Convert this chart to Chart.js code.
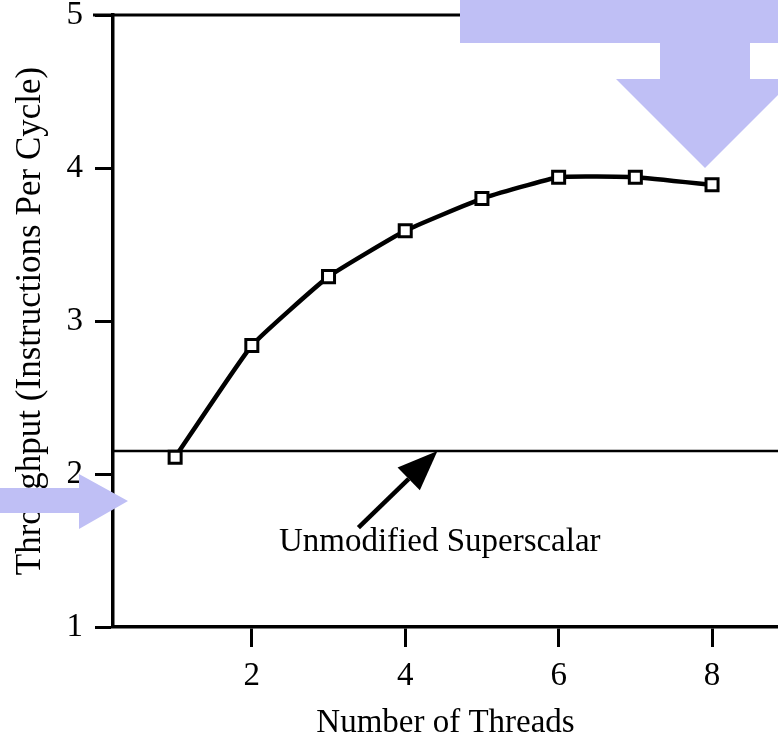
<!DOCTYPE html>
<html>
<head>
<meta charset="utf-8">
<script src="https://cdn.jsdelivr.net/npm/chart.js@4.4.1/dist/chart.umd.min.js"></script>
<style>
  html, body { margin: 0; padding: 0; background: #fff; }
  canvas { display: block; }
</style>
</head>
<body>
<canvas id="chart" width="778" height="743"></canvas>
<script>
// data
const threads = [1, 2, 3, 4, 5, 6, 7, 8];
const throughput = [2.11, 2.84, 3.29, 3.59, 3.80, 3.94, 3.94, 3.89];
const baseline = 2.15; // unmodified superscalar
const xTicks = [2, 4, 6, 8];
const yTicks = [1, 2, 3, 4, 5];
const xRange = [0.19, 8.86];
const yRange = [1, 5];

// annotation (in data units)
const noteText = "Unmodified Superscalar";
const notePos = { x: 4.45, y: 1.50 };
const arrowFrom = { x: 3.39, y: 1.65 };
const arrowTo = { x: 4.42, y: 2.15 };

const serif = '"Liberation Serif", "Times New Roman", serif';

const decorations = {
  id: "decorations",
  afterDatasetsDraw(chart) {
    const { ctx, chartArea, scales: { x, y } } = chart;
    ctx.save();
    // top frame line
    ctx.strokeStyle = "#000";
    ctx.lineWidth = 3;
    ctx.beginPath();
    ctx.moveTo(chartArea.left - 20, chartArea.top);
    ctx.lineTo(chartArea.right, chartArea.top);
    ctx.stroke();

    // arrow pointing at the baseline
    const x0 = x.getPixelForValue(arrowFrom.x), y0 = y.getPixelForValue(arrowFrom.y);
    const x1 = x.getPixelForValue(arrowTo.x), y1 = y.getPixelForValue(arrowTo.y);
    const ang = Math.atan2(y1 - y0, x1 - x0);
    const headLen = 40, headHalf = 16;
    const bx = x1 - headLen * Math.cos(ang), by = y1 - headLen * Math.sin(ang);
    ctx.lineWidth = 4.5;
    ctx.beginPath();
    ctx.moveTo(x0, y0);
    ctx.lineTo(bx, by);
    ctx.stroke();
    ctx.fillStyle = "#000";
    ctx.beginPath();
    ctx.moveTo(x1, y1);
    ctx.lineTo(bx + headHalf * Math.sin(ang), by - headHalf * Math.cos(ang));
    ctx.lineTo(bx - headHalf * Math.sin(ang), by + headHalf * Math.cos(ang));
    ctx.closePath();
    ctx.fill();

    ctx.font = "33px " + serif;
    ctx.textAlign = "center";
    ctx.textBaseline = "alphabetic";
    ctx.fillText(noteText, x.getPixelForValue(notePos.x), y.getPixelForValue(notePos.y));
    ctx.restore();
  },
  afterDraw(chart) {
    // lavender highlight arrows that sit on top of the scan
    const { ctx } = chart;
    ctx.save();
    ctx.fillStyle = "#bfbff5";
    ctx.beginPath();
    [[460, 0], [778, 0], [778, 43], [750, 43], [750, 79], [794, 79], [705, 168],
     [616, 79], [660, 79], [660, 43], [460, 43]].forEach(([px, py], i) => i ? ctx.lineTo(px, py) : ctx.moveTo(px, py));
    ctx.closePath();
    ctx.fill();
    ctx.beginPath();
    [[0, 488], [79, 488], [79, 474], [128, 501], [79, 529], [79, 513], [0, 513]]
      .forEach(([px, py], i) => i ? ctx.lineTo(px, py) : ctx.moveTo(px, py));
    ctx.closePath();
    ctx.fill();
    ctx.restore();
  }
};

new Chart(document.getElementById("chart"), {
  type: "line",
  data: {
    datasets: [
      {
        data: threads.map((t, i) => ({ x: t, y: throughput[i] })),
        borderColor: "#000",
        borderWidth: 4.5,
        tension: 0.12,
        pointStyle: "rect",
        pointRadius: 8.5,
        pointBorderWidth: 3,
        pointBackgroundColor: "#fff",
        pointBorderColor: "#000"
      },
      {
        data: xRange.map(v => ({ x: v, y: baseline })),
        borderColor: "#000",
        borderWidth: 2.5,
        pointRadius: 0
      }
    ]
  },
  options: {
    responsive: false,
    animation: false,
    layout: { autoPadding: false, padding: { top: 15, right: 0, bottom: 0, left: 0 } },
    plugins: { legend: { display: false }, tooltip: { enabled: false } },
    scales: {
      x: {
        type: "linear",
        min: xRange[0],
        max: xRange[1],
        afterBuildTicks: axis => { axis.ticks = xTicks.map(v => ({ value: v })); },
        afterFit: s => { s.height = 116; s.paddingLeft = 0; s.paddingRight = 0; },
        grid: { drawOnChartArea: false, drawTicks: true, tickLength: 20, tickWidth: 3, tickColor: "#000" },
        border: { display: true, color: "#000", width: 3.5 },
        ticks: { color: "#000", padding: 10, maxRotation: 0, font: { family: serif, size: 33 } },
        title: { display: true, text: "Number of Threads", color: "#000", padding: { top: 0, bottom: 0 }, font: { family: serif, size: 33 } }
      },
      y: {
        min: yRange[0],
        max: yRange[1],
        afterBuildTicks: axis => { axis.ticks = yTicks.map(v => ({ value: v })); },
        afterFit: s => { s.width = 113; s.paddingTop = 0; s.paddingBottom = 0; },
        grid: { drawOnChartArea: false, drawTicks: true, tickLength: 18, tickWidth: 3, tickColor: "#000" },
        border: { display: true, color: "#000", width: 3.5 },
        ticks: { color: "#000", padding: 12, font: { family: serif, size: 33 } },
        title: { display: true, text: "Throughput (Instructions Per Cycle)", color: "#000", padding: { top: 10, bottom: 0 }, font: { family: serif, size: 35 } }
      }
    }
  },
  plugins: [decorations]
});
</script>
</body>
</html>
